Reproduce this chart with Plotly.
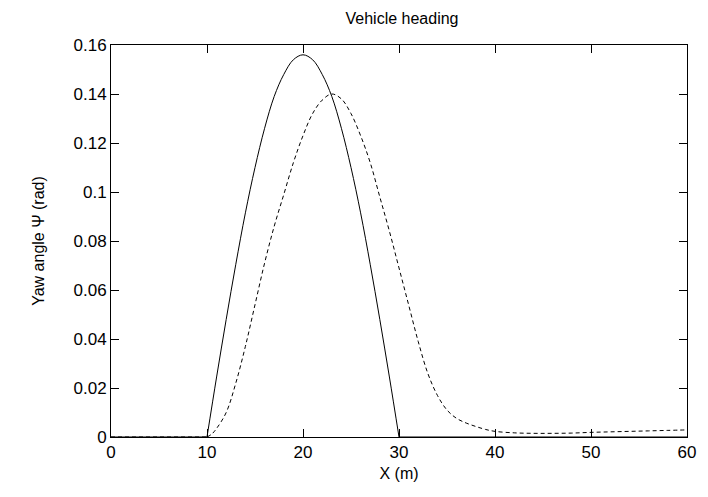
import plotly.graph_objects as go

# Solid curve (reference heading)
x_solid = [10, 11, 12, 13, 14, 15, 16, 17, 18, 19, 20, 21, 22, 23, 24, 25, 26, 27, 28, 29, 30]
y_solid = [0.0, 0.0245, 0.048, 0.0705, 0.0915, 0.110, 0.126, 0.139, 0.148, 0.154, 0.156,
           0.154, 0.148, 0.139, 0.126, 0.110, 0.0915, 0.0705, 0.048, 0.0245, 0.0]
x_solid_flat = [0, 10, None, 30, 60]
y_solid_flat = [0, 0, None, 0, 0]

# Dashed curve (vehicle heading response)
x_dash = [10, 10.5, 11, 12, 13, 14, 15, 16, 17, 18, 19, 20, 21, 22, 23, 24, 25, 26, 27, 28,
          29, 30, 31, 32, 33, 34, 35, 36, 37, 38, 39, 40, 42, 44, 46, 48, 50, 52, 54, 56, 58, 60]
y_dash = [0.0, 0.0012, 0.0035, 0.010, 0.022, 0.037, 0.054, 0.071, 0.086, 0.099, 0.112, 0.123,
          0.132, 0.1375, 0.140, 0.138, 0.132, 0.123, 0.112, 0.098, 0.084, 0.069, 0.054, 0.039,
          0.026, 0.017, 0.011, 0.0076, 0.0057, 0.0043, 0.0031, 0.0023, 0.0017, 0.0015, 0.0015,
          0.0016, 0.0019, 0.0021, 0.0023, 0.0025, 0.0027, 0.0029]
x_dash_flat = [0, 10]
y_dash_flat = [0, 0]

x_ticks = [0, 10, 20, 30, 40, 50, 60]
y_ticks = [0, 0.02, 0.04, 0.06, 0.08, 0.1, 0.12, 0.14, 0.16]
y_tick_text = ["0", "0.02", "0.04", "0.06", "0.08", "0.1", "0.12", "0.14", "0.16"]

FONT = "Liberation Sans, Arial, Helvetica, sans-serif"
FS_TICK = 17
FS_TITLE = 16

fig = go.Figure()
fig.add_trace(go.Scatter(x=x_solid_flat, y=y_solid_flat, mode="lines",
                         line=dict(color="black", width=1), showlegend=False))
fig.add_trace(go.Scatter(x=x_solid, y=y_solid, mode="lines",
                         line=dict(color="black", width=1, shape="spline", smoothing=1.0),
                         showlegend=False))
fig.add_trace(go.Scatter(x=x_dash_flat, y=y_dash_flat, mode="lines",
                         line=dict(color="black", width=1, dash="4px,3px"), showlegend=False))
fig.add_trace(go.Scatter(x=x_dash, y=y_dash, mode="lines",
                         line=dict(color="black", width=1, dash="4px,3px", shape="spline",
                                   smoothing=1.0),
                         showlegend=False))

axis_common = dict(showline=True, linecolor="black", linewidth=1, mirror="ticks",
                   ticks="inside", ticklen=8, tickwidth=1, tickcolor="black",
                   showgrid=False, zeroline=False,
                   tickfont=dict(family=FONT, size=FS_TICK, color="black"))

fig.update_layout(
    width=708, height=497,
    margin=dict(l=111, r=15, t=45, b=60),
    paper_bgcolor="white", plot_bgcolor="white",
    title=dict(text="Vehicle heading", x=(111 + 693) / 2 / 708, xanchor="center",
               y=1 - 18 / 497, yanchor="middle",
               font=dict(family=FONT, size=FS_TITLE, color="black")),
    xaxis=dict(range=[0, 60], tickvals=x_ticks, ticktext=[str(v) for v in x_ticks],
               title=dict(text="X (m)", font=dict(family=FONT, size=FS_TITLE, color="black"),
                          standoff=6),
               **axis_common),
    yaxis=dict(range=[0, 0.16], tickvals=y_ticks, ticktext=y_tick_text,
               title=dict(text="Yaw angle Ψ (rad)",
                          font=dict(family=FONT, size=FS_TITLE, color="black"),
                          standoff=24),
               **axis_common),
)

fig.write_html("out.html")
